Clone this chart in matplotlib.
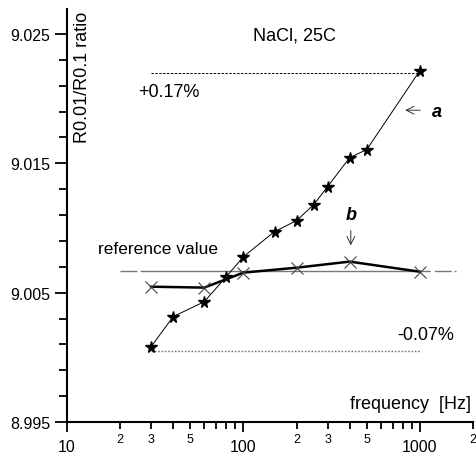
import numpy as np
import matplotlib
matplotlib.use('Agg')
import matplotlib.pyplot as plt
from matplotlib.ticker import FixedLocator, FuncFormatter

plt.rcParams['font.family'] = ['Liberation Sans', 'DejaVu Sans']

# curve a (stars) and curve b (crosses)
freq_a = [30, 40, 60, 80, 100, 150, 200, 250, 300, 400, 500, 1000]
ratio_a = [9.00083, 9.00315, 9.00430, 9.00624, 9.00778, 9.00972,
           9.01057, 9.01180, 9.01320, 9.01544, 9.01606, 9.02217]
freq_b = [30, 60, 100, 200, 400, 1000]
ratio_b = [9.00546, 9.00539, 9.00655, 9.00693, 9.00740, 9.00662]

ref_value = 9.0067
upper = 9.0220   # +0.17 %
lower = 9.0005   # -0.07 %

major_ticks = [10, 100, 1000]
minor_labels = {2, 3, 5}

fig = plt.figure(figsize=(4.76, 4.56), dpi=100)
ax = fig.add_axes([67 / 476, 33 / 456, 406 / 476, 413 / 456])

ax.set_xscale('log')
ax.set_xlim(10, 2000)
ax.set_ylim(8.995, 9.02693)

# reference line with long dashes
ax.plot([20, 1600], [ref_value, ref_value], color='#777777', lw=1.0,
        dashes=(12.2, 2.2, 209, 2.9, 12.2, 2))
ax.plot([30, 1000], [upper, upper], color='black', lw=0.7, dashes=(2.5, 1.5))
ax.plot([30, 1000], [lower, lower], color='#777777', lw=1.0, dashes=(1.2, 1.2))

ax.plot(freq_a, ratio_a, color='black', lw=0.7, marker='*', ms=8.5)
ax.plot(freq_b, ratio_b, color='black', lw=1.8)
ax.plot(freq_b, ratio_b, ls='none', marker='x', ms=8, mew=0.8, color='#444444')

for s in ['top', 'right']:
    ax.spines[s].set_visible(False)
ax.spines['left'].set_linewidth(1.5)
ax.spines['bottom'].set_linewidth(1.5)

ax.set_yticks([8.995, 9.005, 9.015, 9.025])
ax.set_yticklabels(['8.995', '9.005', '9.015', '9.025'])
ax.yaxis.set_minor_locator(FixedLocator(np.arange(8.995, 9.027, 0.002)))
ax.tick_params(axis='y', which='major', length=9, width=1.3, pad=3, labelsize=11.5)
ax.tick_params(axis='y', which='minor', length=6, width=1.3)

minor_x = [m * d for d in (10, 100, 1000) for m in range(2, 10) if m * d <= 2000]
ax.xaxis.set_major_locator(FixedLocator(major_ticks))
ax.xaxis.set_major_formatter(FuncFormatter(lambda v, p: '%d' % v))
ax.xaxis.set_minor_locator(FixedLocator(minor_x))
ax.xaxis.set_minor_formatter(FuncFormatter(
    lambda v, p: '%d' % round(v / 10 ** np.floor(np.log10(v)))
    if round(v / 10 ** np.floor(np.log10(v))) in minor_labels else ''))
ax.tick_params(axis='x', which='major', length=7, width=1.3, pad=5.5, labelsize=11.5)
ax.tick_params(axis='x', which='minor', length=5, width=1.3, pad=3, labelsize=9)

tr = ax.transAxes
ax.text(0.037, 0.995, 'R0.01/R0.1 ratio', rotation=90, ha='center', va='top',
        fontsize=13, transform=tr)
ax.text(0.559, 0.937, 'NaCl, 25C', ha='center', va='center', fontsize=13, transform=tr)
ax.text(0.175, 0.801, '+0.17%', ha='left', va='center', fontsize=13, transform=tr)
ax.text(0.953, 0.213, '-0.07%', ha='right', va='center', fontsize=13, transform=tr)
ax.text(0.076, 0.421, 'reference value', ha='left', va='center', fontsize=12.5, transform=tr)
ax.text(0.995, 0.044, 'frequency  [Hz]', ha='right', va='center', fontsize=13, transform=tr)

ax.text(0.91, 0.752, 'a', ha='center', va='center', fontsize=13,
        fontweight='bold', style='italic', transform=tr)
ax.annotate('', xy=(0.826, 0.755), xytext=(0.877, 0.755), xycoords=tr,
            arrowprops=dict(arrowstyle='->', lw=0.7, color='#333333', mutation_scale=14))
ax.text(0.70, 0.503, 'b', ha='center', va='center', fontsize=13,
        fontweight='bold', style='italic', transform=tr)
ax.annotate('', xy=(0.699, 0.421), xytext=(0.699, 0.47), xycoords=tr,
            arrowprops=dict(arrowstyle='->', lw=0.7, color='#333333', mutation_scale=14))

fig.savefig('out.png', dpi=100)
